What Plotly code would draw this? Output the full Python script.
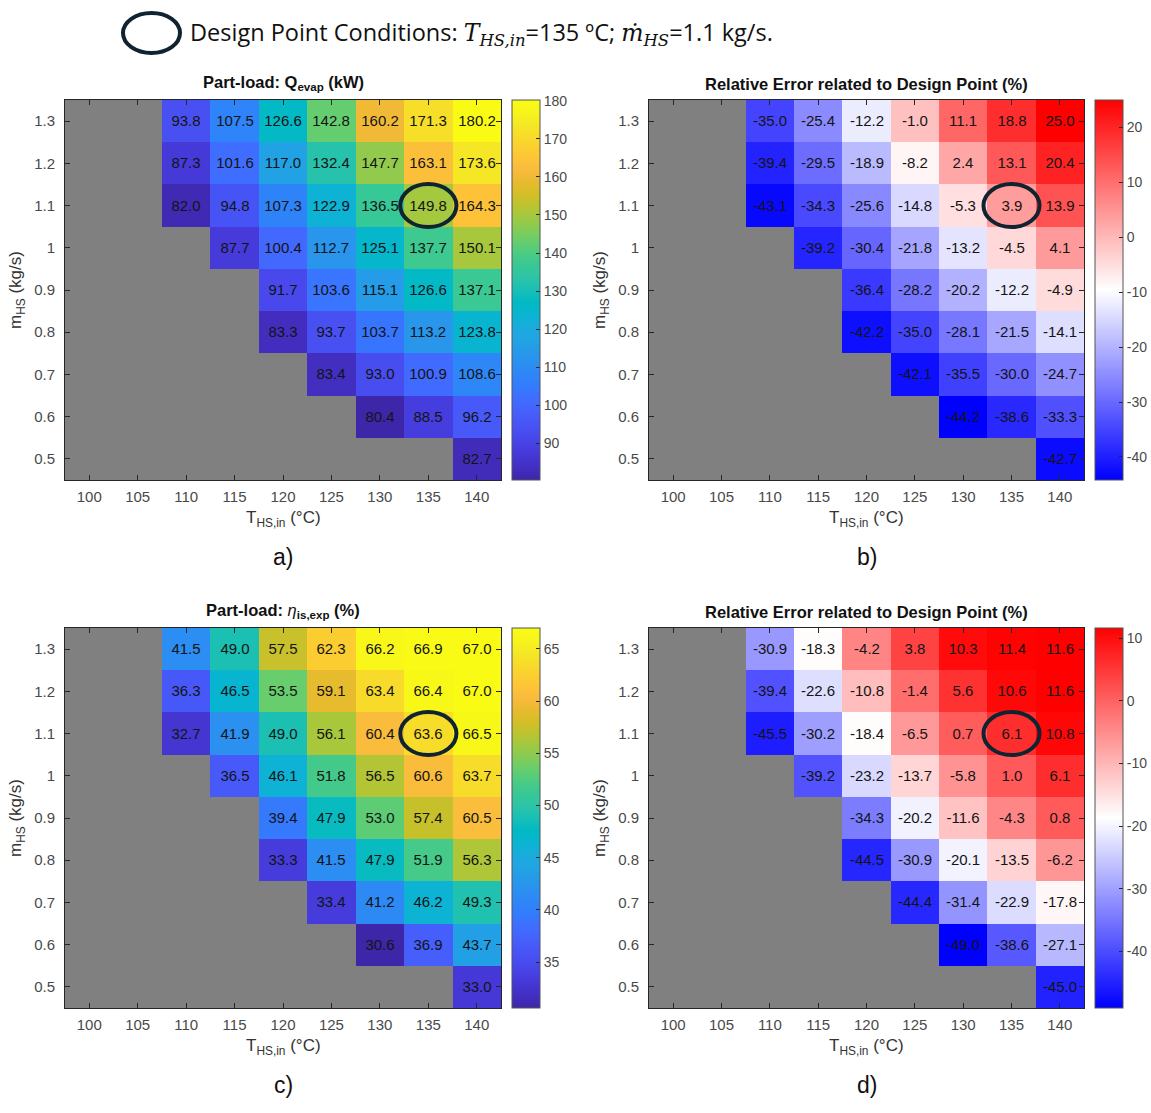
import plotly.graph_objects as go

W, H = 1151, 1113

# ---------------- data ----------------
T_hs = [100, 105, 110, 115, 120, 125, 130, 135, 140]
m_hs = [0.5, 0.6, 0.7, 0.8, 0.9, 1.0, 1.1, 1.2, 1.3]
y_ticktext = ["0.5", "0.6", "0.7", "0.8", "0.9", "1", "1.1", "1.2", "1.3"]
N = None

# rows listed from m=0.5 (bottom) to m=1.3 (top); columns T=100..140
q_evap = [
    [N, N, N, N, N, N, N, N, 82.7],
    [N, N, N, N, N, N, 80.4, 88.5, 96.2],
    [N, N, N, N, N, 83.4, 93.0, 100.9, 108.6],
    [N, N, N, N, 83.3, 93.7, 103.7, 113.2, 123.8],
    [N, N, N, N, 91.7, 103.6, 115.1, 126.6, 137.1],
    [N, N, N, 87.7, 100.4, 112.7, 125.1, 137.7, 150.1],
    [N, N, 82.0, 94.8, 107.3, 122.9, 136.5, 149.8, 164.3],
    [N, N, 87.3, 101.6, 117.0, 132.4, 147.7, 163.1, 173.6],
    [N, N, 93.8, 107.5, 126.6, 142.8, 160.2, 171.3, 180.2],
]
err_q = [
    [N, N, N, N, N, N, N, N, -42.7],
    [N, N, N, N, N, N, -44.2, -38.6, -33.3],
    [N, N, N, N, N, -42.1, -35.5, -30.0, -24.7],
    [N, N, N, N, -42.2, -35.0, -28.1, -21.5, -14.1],
    [N, N, N, N, -36.4, -28.2, -20.2, -12.2, -4.9],
    [N, N, N, -39.2, -30.4, -21.8, -13.2, -4.5, 4.1],
    [N, N, -43.1, -34.3, -25.6, -14.8, -5.3, 3.9, 13.9],
    [N, N, -39.4, -29.5, -18.9, -8.2, 2.4, 13.1, 20.4],
    [N, N, -35.0, -25.4, -12.2, -1.0, 11.1, 18.8, 25.0],
]
eta_exp = [
    [N, N, N, N, N, N, N, N, 33.0],
    [N, N, N, N, N, N, 30.6, 36.9, 43.7],
    [N, N, N, N, N, 33.4, 41.2, 46.2, 49.3],
    [N, N, N, N, 33.3, 41.5, 47.9, 51.9, 56.3],
    [N, N, N, N, 39.4, 47.9, 53.0, 57.4, 60.5],
    [N, N, N, 36.5, 46.1, 51.8, 56.5, 60.6, 63.7],
    [N, N, 32.7, 41.9, 49.0, 56.1, 60.4, 63.6, 66.5],
    [N, N, 36.3, 46.5, 53.5, 59.1, 63.4, 66.4, 67.0],
    [N, N, 41.5, 49.0, 57.5, 62.3, 66.2, 66.9, 67.0],
]
err_eta = [
    [N, N, N, N, N, N, N, N, -45.0],
    [N, N, N, N, N, N, -49.0, -38.6, -27.1],
    [N, N, N, N, N, -44.4, -31.4, -22.9, -17.8],
    [N, N, N, N, -44.5, -30.9, -20.1, -13.5, -6.2],
    [N, N, N, N, -34.3, -20.2, -11.6, -4.3, 0.8],
    [N, N, N, -39.2, -23.2, -13.7, -5.8, 1.0, 6.1],
    [N, N, -45.5, -30.2, -18.4, -6.5, 0.7, 6.1, 10.8],
    [N, N, -39.4, -22.6, -10.8, -1.4, 5.6, 10.6, 11.6],
    [N, N, -30.9, -18.3, -4.2, 3.8, 10.3, 11.4, 11.6],
]
design_T, design_m = 135, 1.1

titles = [
    "<b>Part-load: Q<sub>evap</sub> (kW)</b>",
    "<b>Relative Error related to Design Point (%)</b>",
    "<b>Part-load: </b><i>η</i><b><sub>is,exp</sub> (%)</b>",
    "<b>Relative Error related to Design Point (%)</b>",
]
cbar_ticks = [
    [90, 100, 110, 120, 130, 140, 150, 160, 170, 180],
    [-40, -30, -20, -10, 0, 10, 20],
    [35, 40, 45, 50, 55, 60, 65],
    [-40, -30, -20, -10, 0, 10],
]
panel_labels = ["a)", "b)", "c)", "d)"]

# ---------------- styles ----------------
parula = [
    (0.2422, 0.1504, 0.6603), (0.2578, 0.1818, 0.7511), (0.2706, 0.2147, 0.8364),
    (0.2783, 0.2559, 0.8991), (0.2813, 0.3006, 0.9414), (0.2795, 0.3447, 0.9717),
    (0.2699, 0.3892, 0.9906), (0.2440, 0.4358, 0.9988), (0.1963, 0.4847, 0.9892),
    (0.1786, 0.5289, 0.9682), (0.1687, 0.5703, 0.9359), (0.1460, 0.6091, 0.9079),
    (0.1248, 0.6459, 0.8883), (0.0952, 0.6798, 0.8598), (0.0297, 0.7082, 0.8163),
    (0.0067, 0.7312, 0.7660), (0.0964, 0.7500, 0.7120), (0.1717, 0.7670, 0.6554),
    (0.2161, 0.7843, 0.5923), (0.2906, 0.7973, 0.5188), (0.3909, 0.8029, 0.4354),
    (0.5044, 0.7993, 0.3480), (0.6174, 0.7876, 0.2612), (0.7242, 0.7698, 0.1910),
    (0.8203, 0.7498, 0.1535), (0.9035, 0.7330, 0.1774), (0.9728, 0.7298, 0.2394),
    (0.9970, 0.7659, 0.2199), (0.9892, 0.8136, 0.1885), (0.9676, 0.8639, 0.1643),
    (0.9597, 0.9135, 0.1423), (0.9691, 0.9606, 0.1064), (0.9769, 0.9839, 0.0805),
]
n = len(parula)
parula_cs = [[i / (n - 1), "rgb(%d,%d,%d)" % tuple(round(c * 255) for c in col)]
             for i, col in enumerate(parula)]
bwr_cs = [[0, "rgb(0,0,255)"], [0.5, "rgb(255,255,255)"], [1, "rgb(255,0,0)"]]

FONT = "Liberation Sans, Arial, sans-serif"
TICKC = "#4a4a4a"
AXC = "#262626"
RING = "#0f2331"

# pixel boxes of the four plot areas: (left, right, top, bottom)
boxes = [(65, 501, 100, 480), (649, 1084, 100, 480),
         (65, 501, 628, 1008), (649, 1084, 628, 1008)]
datasets = [q_evap, err_q, eta_exp, err_eta]
scales = [parula_cs, bwr_cs, parula_cs, bwr_cs]

fig = go.Figure()
annotations = []
shapes = []

def px_x(p):
    return p / W

def px_y(p):
    return 1 - p / H

for k in range(4):
    l, r, t, b = boxes[k]
    sfx = "" if k == 0 else str(k + 1)
    z = datasets[k]
    txt = [["" if v is None else "%.1f" % v for v in row] for row in z]
    fig.add_trace(go.Heatmap(
        x=T_hs, y=m_hs, z=z, text=txt, texttemplate="%{text}",
        textfont=dict(family=FONT, size=15, color="#141414"),
        colorscale=scales[k], xgap=0, ygap=0, hoverongaps=False,
        xaxis="x" + sfx, yaxis="y" + sfx,
        colorbar=dict(
            x=px_x(r + 11), xanchor="left", xpad=0, ypad=0,
            y=px_y((t + b) / 2), yanchor="middle",
            len=b - t, lenmode="pixels", thickness=28,
            outlinewidth=1, outlinecolor="#555555",
            ticks="inside", ticklen=4, tickcolor=AXC,
            tickvals=cbar_ticks[k], ticktext=[str(v) for v in cbar_ticks[k]],
            tickfont=dict(family=FONT, size=14, color=TICKC),
        ),
    ))
    axis_common = dict(showline=True, linecolor=AXC, linewidth=1, mirror="ticks",
                       ticks="inside", ticklen=5, tickcolor=AXC,
                       showgrid=False, zeroline=False,
                       tickfont=dict(family=FONT, size=15, color=TICKC))
    fig.layout["xaxis" + sfx] = dict(
        domain=[px_x(l), px_x(r)], anchor="y" + sfx, range=[97.5, 142.5],
        tickvals=T_hs, ticklabelstandoff=3, **axis_common)
    fig.layout["yaxis" + sfx] = dict(
        domain=[px_y(b), px_y(t)], anchor="x" + sfx, range=[0.45, 1.35],
        tickvals=m_hs, ticktext=y_ticktext, ticklabelstandoff=6, **axis_common)

    cx = (l + r) / 2
    annotations.append(dict(text=titles[k], x=px_x(cx), y=px_y(t - 5), xref="paper", yref="paper",
                            xanchor="center", yanchor="bottom", showarrow=False,
                            font=dict(family=FONT, size=16.5, color="#111111")))
    annotations.append(dict(text="T<sub>HS,in</sub> (°C)", x=px_x(cx), y=px_y(b + 26),
                            xref="paper", yref="paper", xanchor="center", yanchor="top",
                            showarrow=False, font=dict(family=FONT, size=17, color="#333333")))
    annotations.append(dict(text="m<sub>HS</sub> (kg/s)", x=px_x(l - 48), y=px_y((t + b) / 2),
                            xref="paper", yref="paper", xanchor="center", yanchor="middle",
                            textangle=-90, showarrow=False,
                            font=dict(family=FONT, size=17, color="#333333")))
    annotations.append(dict(text=panel_labels[k], x=px_x(cx), y=px_y(b + 77),
                            xref="paper", yref="paper", xanchor="center", yanchor="middle",
                            showarrow=False, font=dict(family=FONT, size=23, color="#111111")))
    # design point ring (data coordinates)
    shapes.append(dict(type="circle", xref="x" + sfx, yref="y" + sfx,
                       x0=design_T - 2.9, x1=design_T + 2.9,
                       y0=design_m - 0.051, y1=design_m + 0.051,
                       line=dict(color=RING, width=4)))

# header legend
shapes.append(dict(type="circle", xref="paper", yref="paper",
                   x0=px_x(123), x1=px_x(180), y0=px_y(53), y1=px_y(13),
                   line=dict(color=RING, width=4)))
SERIF = "font-family:'DejaVu Serif', 'Liberation Serif', serif"
header = ("Design Point Conditions: "
          f"<span style=\"{SERIF}\"><i>T</i><sub><i>HS,in</i></sub></span>=135 ºC; "
          f"<span style=\"{SERIF}\"><i>ṁ</i><sub><i>HS</i></sub></span>=1.1 kg/s.")
annotations.append(dict(text=header, x=px_x(188), y=px_y(33), xref="paper", yref="paper",
                        xanchor="left", yanchor="middle", showarrow=False,
                        font=dict(family="Open Sans, Noto Sans, sans-serif", size=23.5, color="#111111")))

fig.update_layout(
    width=W, height=H, margin=dict(l=0, r=0, t=0, b=0, autoexpand=False),
    paper_bgcolor="white", plot_bgcolor="#808080",
    annotations=annotations, shapes=shapes, showlegend=False,
    font=dict(family=FONT),
)

fig.write_html("out.html")
